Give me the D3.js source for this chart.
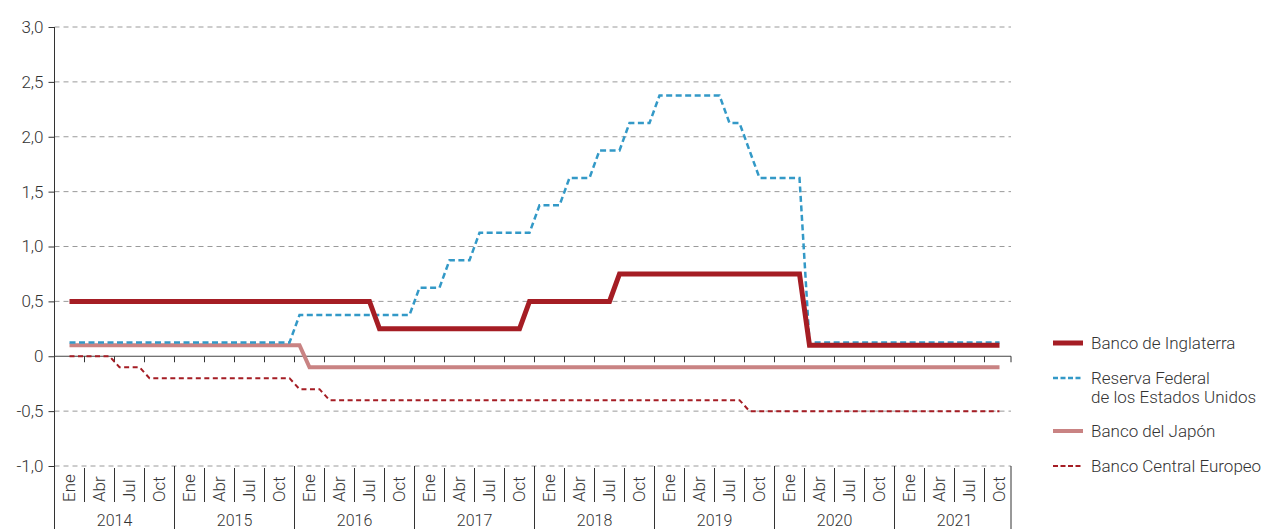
<!DOCTYPE html>
<html>
<head>
<meta charset="utf-8">
<script src="https://cdn.jsdelivr.net/npm/d3@7"></script>
<style>
  html, body { margin: 0; padding: 0; background: #fff; }
  svg { display: block; }
  text { font-family: Roboto, "Liberation Sans", sans-serif; font-weight: 300; fill: #333; }
</style>
</head>
<body>
<svg id="chart" width="1269" height="529"></svg>
<script>
// ---- Data (monthly, from Feb 2014 to Nov 2021) ----
const years = [2014, 2015, 2016, 2017, 2018, 2019, 2020, 2021];
const quarterLabels = ["Ene", "Abr", "Jul", "Oct"];
const yTicks = [-1, -0.5, 0, 0.5, 1, 1.5, 2, 2.5, 3];
const yTickLabels = ["-1,0", "-0,5", "0", "0,5", "1,0", "1,5", "2,0", "2,5", "3,0"];
const firstMonthIndex = 1; // Feb 2014 (months counted from Jan 2014)

const bancoInglaterra = [
  0.5,0.5,0.5,0.5,0.5,0.5,0.5,0.5,0.5,0.5,0.5,                 // 2014 Feb-Dec
  0.5,0.5,0.5,0.5,0.5,0.5,0.5,0.5,0.5,0.5,0.5,0.5,             // 2015
  0.5,0.5,0.5,0.5,0.5,0.5,0.5,0.5,0.25,0.25,0.25,0.25,         // 2016
  0.25,0.25,0.25,0.25,0.25,0.25,0.25,0.25,0.25,0.25,0.25,0.5,  // 2017
  0.5,0.5,0.5,0.5,0.5,0.5,0.5,0.5,0.75,0.75,0.75,0.75,         // 2018
  0.75,0.75,0.75,0.75,0.75,0.75,0.75,0.75,0.75,0.75,0.75,0.75, // 2019
  0.75,0.75,0.75,0.1,0.1,0.1,0.1,0.1,0.1,0.1,0.1,0.1,          // 2020
  0.1,0.1,0.1,0.1,0.1,0.1,0.1,0.1,0.1,0.1,0.1                  // 2021 Jan-Nov
];
const reservaFederal = [
  0.125,0.125,0.125,0.125,0.125,0.125,0.125,0.125,0.125,0.125,0.125,
  0.125,0.125,0.125,0.125,0.125,0.125,0.125,0.125,0.125,0.125,0.125,0.125,
  0.375,0.375,0.375,0.375,0.375,0.375,0.375,0.375,0.375,0.375,0.375,0.375,
  0.625,0.625,0.625,0.875,0.875,0.875,1.125,1.125,1.125,1.125,1.125,1.125,
  1.375,1.375,1.375,1.625,1.625,1.625,1.875,1.875,1.875,2.125,2.125,2.125,
  2.375,2.375,2.375,2.375,2.375,2.375,2.375,2.125,2.125,1.875,1.625,1.625,
  1.625,1.625,1.625,0.125,0.125,0.125,0.125,0.125,0.125,0.125,0.125,0.125,
  0.125,0.125,0.125,0.125,0.125,0.125,0.125,0.125,0.125,0.125,0.125
];
const bancoJapon = [
  0.1,0.1,0.1,0.1,0.1,0.1,0.1,0.1,0.1,0.1,0.1,
  0.1,0.1,0.1,0.1,0.1,0.1,0.1,0.1,0.1,0.1,0.1,0.1,
  0.1,-0.1,-0.1,-0.1,-0.1,-0.1,-0.1,-0.1,-0.1,-0.1,-0.1,-0.1,
  -0.1,-0.1,-0.1,-0.1,-0.1,-0.1,-0.1,-0.1,-0.1,-0.1,-0.1,-0.1,
  -0.1,-0.1,-0.1,-0.1,-0.1,-0.1,-0.1,-0.1,-0.1,-0.1,-0.1,-0.1,
  -0.1,-0.1,-0.1,-0.1,-0.1,-0.1,-0.1,-0.1,-0.1,-0.1,-0.1,-0.1,
  -0.1,-0.1,-0.1,-0.1,-0.1,-0.1,-0.1,-0.1,-0.1,-0.1,-0.1,-0.1,
  -0.1,-0.1,-0.1,-0.1,-0.1,-0.1,-0.1,-0.1,-0.1,-0.1,-0.1
];
const bancoCentralEuropeo = [
  0,0,0,0,0,-0.1,-0.1,-0.1,-0.2,-0.2,-0.2,
  -0.2,-0.2,-0.2,-0.2,-0.2,-0.2,-0.2,-0.2,-0.2,-0.2,-0.2,-0.2,
  -0.3,-0.3,-0.3,-0.4,-0.4,-0.4,-0.4,-0.4,-0.4,-0.4,-0.4,-0.4,
  -0.4,-0.4,-0.4,-0.4,-0.4,-0.4,-0.4,-0.4,-0.4,-0.4,-0.4,-0.4,
  -0.4,-0.4,-0.4,-0.4,-0.4,-0.4,-0.4,-0.4,-0.4,-0.4,-0.4,-0.4,
  -0.4,-0.4,-0.4,-0.4,-0.4,-0.4,-0.4,-0.4,-0.4,-0.5,-0.5,-0.5,
  -0.5,-0.5,-0.5,-0.5,-0.5,-0.5,-0.5,-0.5,-0.5,-0.5,-0.5,-0.5,
  -0.5,-0.5,-0.5,-0.5,-0.5,-0.5,-0.5,-0.5,-0.5,-0.5,-0.5
];
const seriesNames = ["Banco de Inglaterra", "Reserva Federal|de los Estados Unidos", "Banco del Japón", "Banco Central Europeo"];

// ---- Layout ----
const svg = d3.select("#chart");
const left = 54.5, gridRight = 1011;
const x = d3.scaleLinear().domain([0, 96]).range([left, left + 960]);
const y = d3.scaleLinear().domain([-1, 3]).range([466, 27]);
const xc = v => Math.min(x(v), gridRight);

const styles = [
  { data: bancoInglaterra, color: "#a51d24", width: 5, dash: null },
  { data: reservaFederal, color: "#3399c7", width: 2.5, dash: "6,3.5" },
  { data: bancoJapon, color: "#c98383", width: 4, dash: null },
  { data: bancoCentralEuropeo, color: "#a51d24", width: 2, dash: "5,3.5" }
];

// gridlines
svg.append("g").selectAll("line").data(yTicks.filter(v => v !== 0)).join("line")
  .attr("x1", left).attr("x2", gridRight)
  .attr("y1", d => y(d)).attr("y2", d => y(d))
  .attr("stroke", "#9a9a9a").attr("stroke-width", 1).attr("stroke-dasharray", "5,4");

// y axis
const yAxis = d3.axisLeft(y).tickValues(yTicks).tickSize(6).tickPadding(5)
  .tickFormat((d, i) => yTickLabels[i]);
const gy = svg.append("g").attr("transform", `translate(${left},0)`).call(yAxis);
gy.select(".domain").remove();
gy.selectAll(".tick line").attr("stroke", "#333");
gy.selectAll(".tick text").style("font-size", "17px").attr("fill", "#333")
  .style("font-family", "Roboto, 'Liberation Sans', sans-serif").style("font-weight", "300");
svg.append("line").attr("x1", left).attr("x2", left).attr("y1", y(3)).attr("y2", 529)
  .attr("stroke", "#333").attr("stroke-width", 1);

// zero line with quarter ticks
const quarterBounds = d3.range(1, 33).map(q => q * 3);
svg.append("line").attr("x1", left).attr("x2", gridRight).attr("y1", y(0)).attr("y2", y(0))
  .attr("stroke", "#444").attr("stroke-width", 1.2);
svg.append("g").selectAll("line").data(quarterBounds).join("line")
  .attr("x1", d => xc(d)).attr("x2", d => xc(d))
  .attr("y1", y(0)).attr("y2", y(0) + 6)
  .attr("stroke", "#333").attr("stroke-width", 1);

// bottom categorical axis
const quarters = [];
years.forEach((yr, yi) => quarterLabels.forEach((q, qi) => quarters.push({ yr, yi, qi, label: q, m: yi * 12 + qi * 3 })));
svg.append("g").selectAll("line").data(quarters.filter(d => d.qi > 0)).join("line")
  .attr("x1", d => x(d.m)).attr("x2", d => x(d.m))
  .attr("y1", y(-1) + 2).attr("y2", 502)
  .attr("stroke", "#333").attr("stroke-width", 1);
svg.append("g").selectAll("line").data(years.map((yr, i) => (i + 1) * 12)).join("line")
  .attr("x1", d => xc(d)).attr("x2", d => xc(d))
  .attr("y1", y(-1)).attr("y2", 529)
  .attr("stroke", "#333").attr("stroke-width", 1);
svg.append("g").selectAll("text").data(quarters).join("text")
  .attr("transform", d => `translate(${x(d.m + 1.5) - 1},502) rotate(-90)`)
  .attr("dy", "0.36em")
  .attr("text-anchor", "start")
  .style("font-size", "17px")
  .text(d => d.label);
svg.append("g").selectAll("text").data(years).join("text")
  .attr("x", (d, i) => x(i * 12 + 6))
  .attr("y", 526)
  .attr("text-anchor", "middle")
  .style("font-size", "16px")
  .text(d => d);

// lines
const line = d3.line().x((d, i) => x(firstMonthIndex + i + 0.5)).y(d => y(d));
const drawOrder = [2, 1, 3, 0];
drawOrder.forEach(k => {
  const s = styles[k];
  svg.append("path").datum(s.data)
    .attr("d", line)
    .attr("fill", "none")
    .attr("stroke", s.color)
    .attr("stroke-width", s.width)
    .attr("stroke-dasharray", s.dash)
    .attr("stroke-linejoin", "miter");
});

// legend
const legendY = [343, 378, 431, 466];
const lg = svg.append("g");
styles.forEach((s, i) => {
  lg.append("line").attr("x1", 1053).attr("x2", 1083)
    .attr("y1", legendY[i]).attr("y2", legendY[i])
    .attr("stroke", s.color).attr("stroke-width", s.width)
    .attr("stroke-dasharray", s.dash ? "5,2.5" : null);
  const parts = seriesNames[i].split("|");
  const t = lg.append("text").attr("x", 1091).attr("y", legendY[i])
    .style("font-size", "17px");
  parts.forEach((p, j) => {
    t.append("tspan").attr("x", 1091).attr("dy", j === 0 ? "0.36em" : "19").text(p);
  });
});
</script>
</body>
</html>
